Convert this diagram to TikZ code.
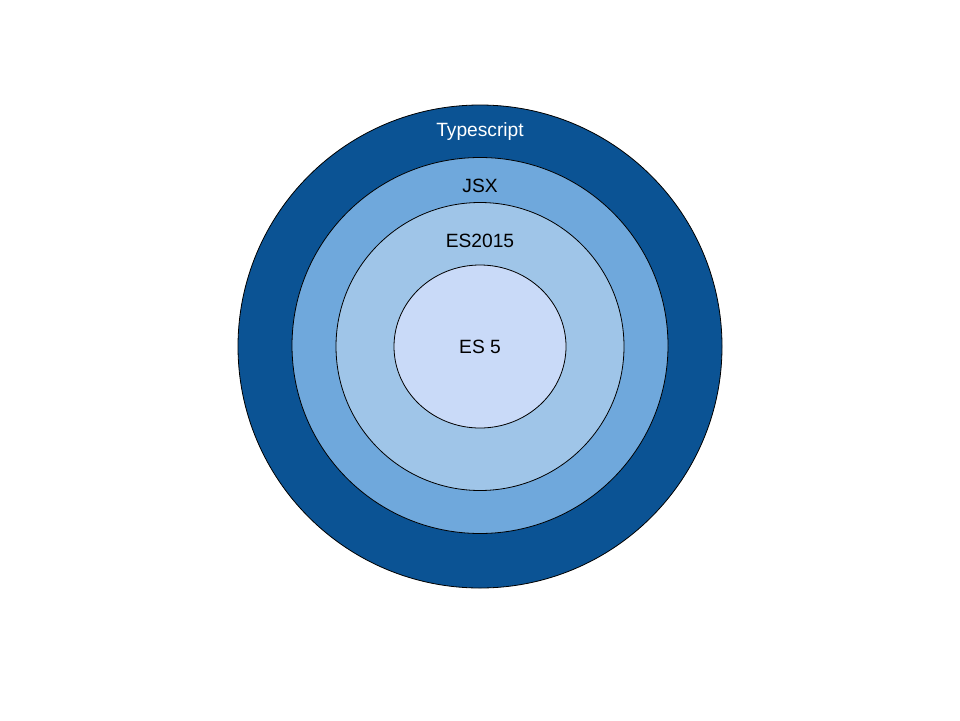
\documentclass[tikz,border=0pt]{standalone}
\usepackage{fontspec}
\setmainfont{Liberation Sans}
\definecolor{ringTS}{HTML}{0B5394}
\definecolor{ringJSX}{HTML}{6FA8DC}
\definecolor{ringES6}{HTML}{9FC5E8}
\definecolor{ringES5}{HTML}{C9DAF8}
\begin{document}
\begin{tikzpicture}[x=1pt,y=-1pt,
  ring/.style={draw=black,line width=0.8pt},
  lbl/.style={font=\fontsize{19.2}{22}\selectfont,anchor=base,inner sep=0pt}]
  \useasboundingbox (0,0) rectangle (960,720);
  % nested language rings
  \filldraw[ring,fill=ringTS]  (480,346.5) circle [x radius=242, y radius=241.5];
  \filldraw[ring,fill=ringJSX] (480,345.5) circle [radius=188];
  \filldraw[ring,fill=ringES6] (480,346.5) circle [radius=144];
  \filldraw[ring,fill=ringES5] (480,346.5) ellipse [x radius=86, y radius=81.5];
  % labels
  \node[lbl,text=white] (ts)  at (480,136) {Typescript};
  \node[lbl]            (jsx) at (480,192) {JSX};
  \node[lbl]            (es6) at (480,247.5) {ES2015};
  \node[lbl]            (es5) at (480,353) {ES 5};
\end{tikzpicture}
\end{document}
